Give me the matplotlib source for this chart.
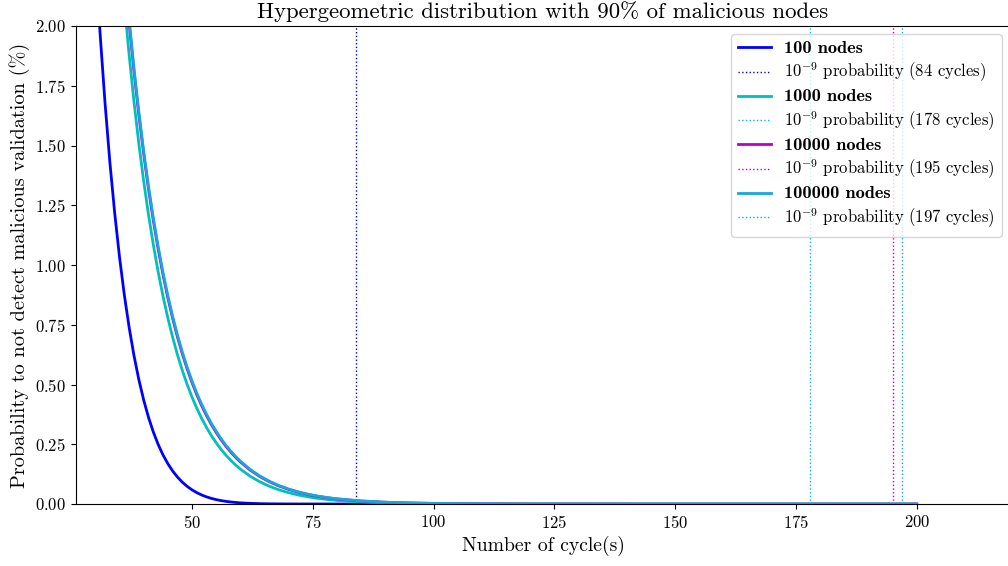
import matplotlib
matplotlib.use("Agg")
import matplotlib.pyplot as plt

plt.rcParams['font.family'] = 'serif'
plt.rcParams['font.serif'] = ['cmr10']
plt.rcParams['mathtext.fontset'] = 'cm'
plt.rcParams['axes.formatter.use_mathtext'] = True
plt.rcParams['axes.unicode_minus'] = False
plt.rcParams['font.size'] = 12

# ---- data (percent probability vs number of cycles) ----
cycles_100 = [26, 27, 28, 29, 30, 31, 32, 33, 34, 35, 36, 37, 38, 39, 40, 41, 42, 43, 44, 45,
              46, 47, 48, 49, 50, 51, 52, 53, 54, 55, 56, 57, 58, 59, 60, 62, 64, 66, 70, 80, 90]
pct_100 = [4.149, 3.589, 3.098, 2.668, 2.292, 1.964, 1.680, 1.432, 1.219, 1.034, 0.875, 0.7385,
           0.621, 0.5209, 0.4356, 0.3629, 0.3014, 0.2494, 0.2056, 0.1689, 0.1382, 0.1126, 0.0914,
           0.0738, 0.0593, 0.0475, 0.0378, 0.0299, 0.02354, 0.01843, 0.01433, 0.01107, 0.00851,
           0.00648, 0.00490, 0.00273, 0.00147, 0.00076, 0.00017, 0.000001, 0.0]

cycles_big = [34, 35, 36, 37, 38, 39, 40, 41, 42, 43, 44, 45, 46, 47, 48, 49, 50, 51, 52, 53, 54,
              55, 56, 57, 58, 59, 60, 62, 64, 66, 68, 70, 72, 74, 76, 78, 80, 85, 90, 95, 100,
              110, 120, 140, 160, 180, 200]
pct_1000 = [2.6085, 2.3385, 2.0961, 1.8787, 1.6836, 1.5086, 1.3521, 1.2113, 1.0850, 0.9717,
            0.8702, 0.7792, 0.6976, 0.6245, 0.5590, 0.5002, 0.4477, 0.4005, 0.3584, 0.3205,
            0.2867, 0.2564, 0.2293, 0.2050, 0.1833, 0.1638, 0.1464, 0.1169, 0.0933, 0.0744,
            0.0593, 0.0473, 0.0377, 0.0300, 0.0238, 0.0190, 0.01506, 0.00846, 0.00474, 0.00264,
            0.00147, 0.00045, 0.000134, 0.0000116, 0.000001, 0.0000001, 0.000000005]
pct_10000 = [2.7630, 2.4858, 2.2362, 2.0118, 1.8099, 1.6282, 1.4653, 1.3182, 1.1858, 1.0667,
             0.9596, 0.8632, 0.7765, 0.6985, 0.6283, 0.5651, 0.5084, 0.4572, 0.4114, 0.3699,
             0.3327, 0.2993, 0.2692, 0.2421, 0.2178, 0.1959, 0.1762, 0.1425, 0.1153, 0.0932,
             0.0754, 0.0610, 0.0494, 0.0399, 0.0322, 0.0261, 0.0211, 0.01240, 0.00728, 0.00428,
             0.00251, 0.00087, 0.00030, 0.000036, 0.0000042, 0.00000048, 0.000000056]
pct_100000 = [2.7803, 2.5023, 2.2520, 2.0268, 1.8241, 1.6417, 1.4781, 1.3303, 1.1973, 1.0775,
              0.9698, 0.8728, 0.7855, 0.7070, 0.6363, 0.5726, 0.5154, 0.4638, 0.4175, 0.3757,
              0.3381, 0.3043, 0.2739, 0.2465, 0.2219, 0.1997, 0.1797, 0.1456, 0.1179, 0.0955,
              0.0774, 0.0627, 0.0508, 0.0411, 0.0333, 0.0270, 0.02185, 0.01290, 0.00762, 0.00450,
              0.00266, 0.00093, 0.00032, 0.000040, 0.0000048, 0.00000058, 0.00000007]

node_counts = ['100', '1000', '10000', '100000']
threshold_cycles = [84, 178, 195, 197]
colors = ['#0000ff', '#00bfbf', '#bf00bf', '#19a6de']

series_x = [cycles_100, cycles_big, cycles_big, cycles_big]
series_y = [pct_100, pct_1000, pct_10000, pct_100000]

fig = plt.figure(figsize=(10.08, 5.66), dpi=100)
ax = fig.add_axes([76 / 1008, 62 / 566, 934 / 1008, 478 / 566])

for n, xs, ys, thr, col in zip(node_counts, series_x, series_y, threshold_cycles, colors):
    ax.plot(xs, ys, color=col, linewidth=2, label=f'{n} nodes')
    ax.axvline(thr, color=col, linestyle=':', linewidth=1,
               label=r'$10^{-9}$' + f' probability ({thr} cycles)')

ax.set_xlim(26, 219.3)
ax.set_ylim(0, 2.0)
ax.set_xticks([50, 75, 100, 125, 150, 175, 200])
ax.set_yticks([0, 0.25, 0.5, 0.75, 1.0, 1.25, 1.5, 1.75, 2.0])
ax.set_xlabel('Number of cycle(s)', fontsize=14.2)
ax.set_ylabel('Probability to not detect malicious validation (%)', fontsize=14.6)
ax.set_title('Hypergeometric distribution with 90% of malicious nodes', fontsize=16.4)

leg = ax.legend(loc='upper right', labelspacing=0.3, fontsize=12)
for t in leg.get_texts()[::2]:
    t.set_family('cmb10')
    t.set_fontsize(13.2)

fig.savefig('out.png', dpi=100)
